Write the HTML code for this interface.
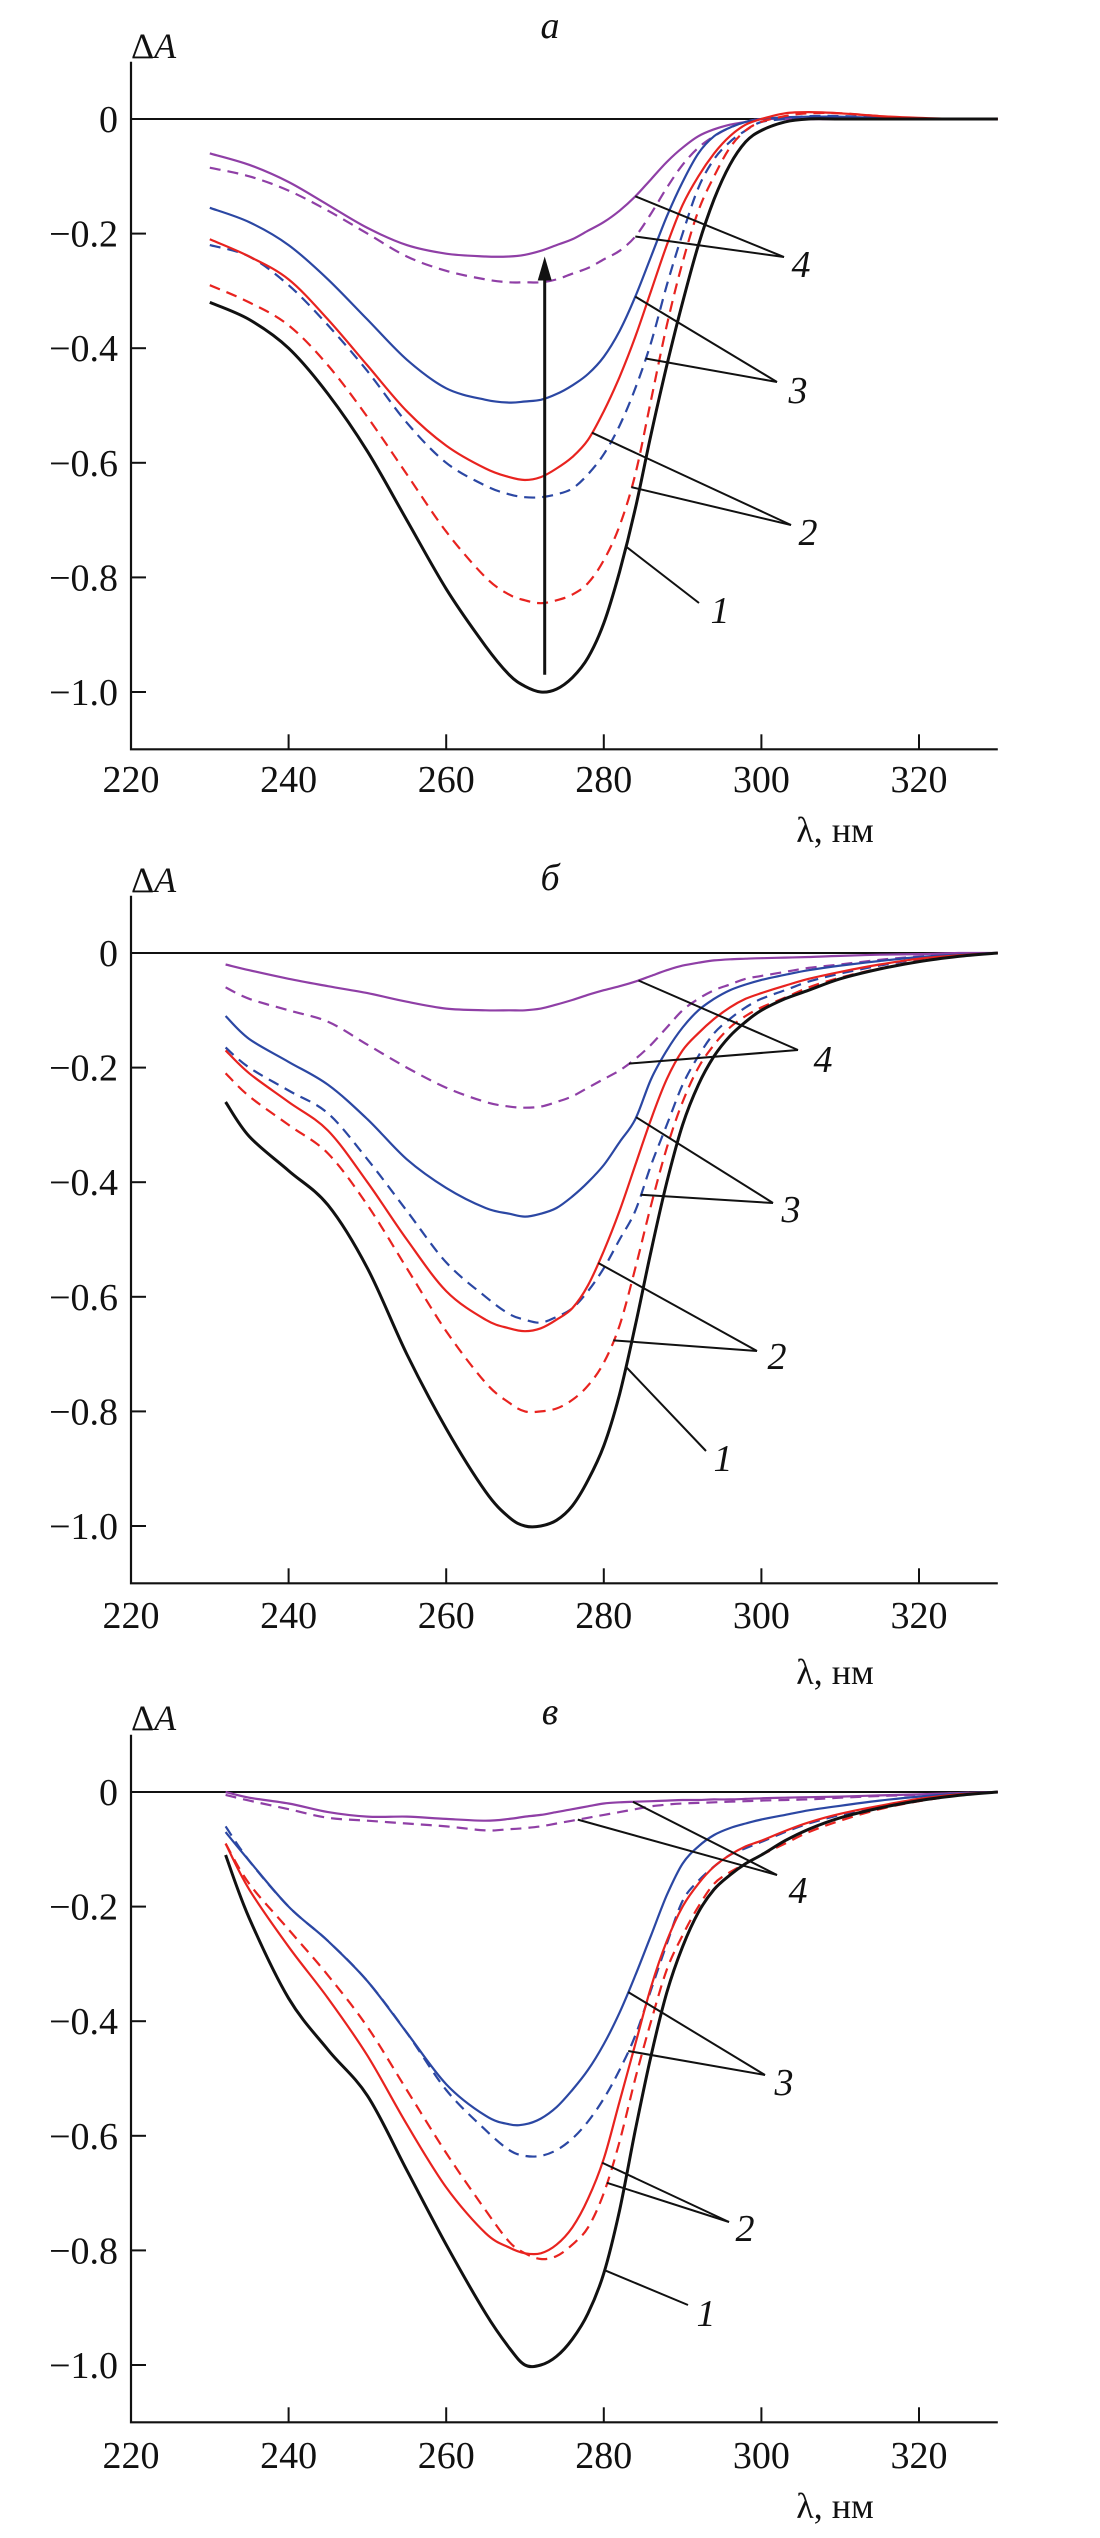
<!DOCTYPE html>
<html><head><meta charset="utf-8">
<style>
html,body{margin:0;padding:0;background:#fff;}
svg{display:block;}
text{font-family:"Liberation Serif",serif;fill:#111;}
</style></head>
<body>
<svg id="chart" width="1100" height="2538" viewBox="0 0 1100 2538" xmlns="http://www.w3.org/2000/svg"></svg>
<script>
// ---------- data ----------
const wlA = [230,235,240,245,250,255,260,265,268,270,272,274,276,278,280,282,284,286,288,290,292,294,296,298,300,303,306,310,315,320,325,330];
const wlB = [232,235,240,245,250,255,260,265,268,270,272,274,276,278,280,282,284,286,288,290,292,294,296,298,300,303,306,310,315,320,325,330];
const wlC = wlB;

const a1  = [-.32,-.35,-.40,-.48,-.58,-.70,-.82,-.92,-.97,-.99,-1.0,-.995,-.975,-.94,-.88,-.79,-.68,-.55,-.43,-.32,-.22,-.14,-.08,-.04,-.02,-.005,0,0,0,0,0,0];
const a2d = [-.29,-.32,-.36,-.43,-.52,-.62,-.72,-.80,-.83,-.84,-.845,-.84,-.83,-.81,-.77,-.71,-.62,-.49,-.36,-.25,-.16,-.10,-.05,-.02,-.005,.005,.01,.01,.005,0,0,0];
const a2s = [-.21,-.24,-.28,-.35,-.43,-.51,-.57,-.61,-.625,-.63,-.625,-.61,-.59,-.56,-.51,-.45,-.38,-.30,-.22,-.15,-.10,-.06,-.03,-.01,0,.01,.012,.01,.005,.002,0,0];
const a3d = [-.22,-.24,-.29,-.36,-.44,-.53,-.60,-.64,-.655,-.66,-.66,-.655,-.645,-.62,-.585,-.535,-.47,-.39,-.29,-.20,-.12,-.07,-.04,-.02,-.005,0,.005,.005,.003,0,0,0];
const a3s = [-.155,-.18,-.22,-.28,-.35,-.42,-.47,-.49,-.495,-.493,-.49,-.48,-.465,-.445,-.415,-.37,-.31,-.24,-.17,-.11,-.06,-.03,-.015,-.005,0,.003,.004,.004,.002,0,0,0];
const a4d = [-.085,-.10,-.125,-.16,-.20,-.24,-.265,-.28,-.285,-.285,-.285,-.28,-.27,-.26,-.245,-.23,-.205,-.165,-.12,-.08,-.05,-.03,-.015,-.005,0,0,0,0,0,0,0,0];
const a4s = [-.06,-.08,-.11,-.15,-.19,-.22,-.235,-.24,-.24,-.237,-.23,-.22,-.21,-.195,-.18,-.16,-.135,-.105,-.075,-.05,-.03,-.018,-.01,-.005,0,0,0,0,0,0,0,0];

const b1  = [-.26,-.32,-.38,-.44,-.55,-.70,-.83,-.94,-.985,-1.0,-1.0,-.99,-.965,-.92,-.86,-.77,-.65,-.52,-.40,-.30,-.23,-.18,-.145,-.12,-.10,-.08,-.065,-.045,-.028,-.015,-.006,0];
const b2d = [-.21,-.25,-.30,-.35,-.44,-.55,-.66,-.75,-.785,-.80,-.80,-.795,-.78,-.755,-.715,-.65,-.55,-.44,-.34,-.26,-.20,-.16,-.13,-.11,-.095,-.078,-.06,-.043,-.027,-.014,-.006,0];
const b2s = [-.17,-.21,-.26,-.31,-.40,-.50,-.59,-.64,-.655,-.66,-.655,-.64,-.62,-.58,-.52,-.45,-.37,-.29,-.22,-.17,-.14,-.115,-.095,-.08,-.07,-.057,-.045,-.033,-.02,-.01,-.004,0];
const b3d = [-.165,-.20,-.24,-.28,-.36,-.45,-.54,-.60,-.63,-.64,-.645,-.635,-.62,-.59,-.55,-.50,-.45,-.37,-.30,-.23,-.18,-.14,-.115,-.095,-.08,-.065,-.05,-.036,-.022,-.011,-.004,0];
const b3s = [-.11,-.15,-.19,-.23,-.29,-.36,-.41,-.445,-.455,-.46,-.455,-.445,-.425,-.40,-.37,-.33,-.29,-.22,-.17,-.13,-.10,-.08,-.065,-.055,-.047,-.038,-.03,-.022,-.014,-.007,-.003,0];
const b4d = [-.06,-.08,-.10,-.12,-.16,-.20,-.235,-.26,-.268,-.27,-.268,-.26,-.25,-.235,-.22,-.205,-.185,-.16,-.13,-.10,-.08,-.065,-.055,-.045,-.04,-.033,-.026,-.02,-.012,-.006,-.002,0];
const b4s = [-.02,-.03,-.045,-.058,-.07,-.085,-.097,-.10,-.10,-.10,-.097,-.09,-.082,-.073,-.065,-.058,-.05,-.04,-.03,-.022,-.017,-.013,-.011,-.01,-.009,-.008,-.007,-.005,-.003,-.002,0,0];

const c1  = [-.11,-.22,-.36,-.45,-.53,-.66,-.79,-.91,-.97,-1.0,-1.0,-.985,-.955,-.91,-.84,-.73,-.59,-.46,-.35,-.27,-.21,-.17,-.145,-.125,-.11,-.085,-.065,-.045,-.028,-.015,-.006,0];
const c2d = [-.09,-.16,-.24,-.32,-.41,-.52,-.63,-.73,-.785,-.805,-.815,-.81,-.79,-.76,-.70,-.61,-.50,-.40,-.31,-.25,-.20,-.16,-.14,-.125,-.11,-.09,-.07,-.05,-.03,-.016,-.006,0];
const c2s = [-.09,-.17,-.27,-.36,-.46,-.58,-.69,-.77,-.795,-.805,-.805,-.79,-.76,-.71,-.64,-.54,-.44,-.34,-.26,-.20,-.16,-.13,-.11,-.095,-.085,-.068,-.053,-.038,-.024,-.012,-.004,0];
const c3d = [-.06,-.12,-.20,-.26,-.33,-.42,-.52,-.59,-.625,-.635,-.635,-.625,-.605,-.575,-.535,-.485,-.425,-.345,-.265,-.19,-.155,-.13,-.11,-.098,-.087,-.07,-.055,-.04,-.025,-.013,-.005,0];
const c3s = [-.07,-.12,-.20,-.26,-.33,-.42,-.51,-.565,-.58,-.58,-.57,-.55,-.52,-.485,-.44,-.385,-.32,-.25,-.18,-.125,-.095,-.075,-.063,-.055,-.048,-.04,-.032,-.024,-.015,-.008,-.003,0];
const c4d = [-.005,-.015,-.03,-.045,-.05,-.055,-.06,-.067,-.065,-.063,-.06,-.055,-.05,-.045,-.04,-.035,-.03,-.025,-.022,-.02,-.019,-.018,-.017,-.016,-.015,-.014,-.013,-.01,-.007,-.005,-.002,0];
const c4s = [0,-.01,-.02,-.035,-.043,-.043,-.047,-.05,-.047,-.043,-.04,-.035,-.03,-.025,-.02,-.018,-.017,-.016,-.015,-.014,-.014,-.013,-.013,-.012,-.011,-.01,-.009,-.008,-.006,-.004,-.002,0];

const xTicks = [220,240,260,280,300,320];
const yTicks = [0,-0.2,-0.4,-0.6,-0.8,-1.0];
const yTickLabels = ["0","\u22120.2","\u22120.4","\u22120.6","\u22120.8","\u22121.0"];

const RED="#e8231f", BLUE="#2b47a3", PURPLE="#8f3fa6", BLACK="#111";

const panels = [
 {id:"a", title:"а", y0:119, wl:wlA, series:[
   {n:"curve-4-dashed",d:a4d,c:PURPLE,dash:true},{n:"curve-4-solid",d:a4s,c:PURPLE},
   {n:"curve-3-dashed",d:a3d,c:BLUE,dash:true},{n:"curve-3-solid",d:a3s,c:BLUE},
   {n:"curve-2-dashed",d:a2d,c:RED,dash:true},{n:"curve-2-solid",d:a2s,c:RED},
   {n:"curve-1",d:a1,c:BLACK,w:3}],
  labels:[
   {t:"4",lx:801,ly:263,sx:784,sy:257,targets:[[a4s,284],[a4d,284]]},
   {t:"3",lx:798,ly:389,sx:777,sy:382,targets:[[a3s,284],[a3d,285.3]]},
   {t:"2",lx:808,ly:531,sx:791,sy:525,targets:[[a2s,278.5],[a2d,283.5]]},
   {t:"1",lx:720,ly:609,sx:699,sy:603,targets:[[a1,282.8]]}],
  arrow:{x:272.5,from:-0.97,to:-0.24},
  titleY:38, daY:58, tickY:792, lamY:842},
 {id:"b", title:"б", y0:953, wl:wlB, series:[
   {n:"curve-4-dashed",d:b4d,c:PURPLE,dash:true},{n:"curve-4-solid",d:b4s,c:PURPLE},
   {n:"curve-3-dashed",d:b3d,c:BLUE,dash:true},{n:"curve-3-solid",d:b3s,c:BLUE},
   {n:"curve-2-dashed",d:b2d,c:RED,dash:true},{n:"curve-2-solid",d:b2s,c:RED},
   {n:"curve-1",d:b1,c:BLACK,w:3}],
  labels:[
   {t:"4",lx:823,ly:1058,sx:798,sy:1050,targets:[[b4s,284.4],[b4d,283.2]]},
   {t:"3",lx:791,ly:1208,sx:773,sy:1203,targets:[[b3s,284.1],[b3d,284.7]]},
   {t:"2",lx:777,ly:1355,sx:757,sy:1351,targets:[[b2s,279.3],[b2d,281.2]]},
   {t:"1",lx:723,ly:1457,sx:706,sy:1451,targets:[[b1,282.8]]}],
  titleY:890, daY:892, tickY:1628, lamY:1684},
 {id:"c", title:"в", y0:1792, wl:wlC, series:[
   {n:"curve-4-dashed",d:c4d,c:PURPLE,dash:true},{n:"curve-4-solid",d:c4s,c:PURPLE},
   {n:"curve-3-dashed",d:c3d,c:BLUE,dash:true},{n:"curve-3-solid",d:c3s,c:BLUE},
   {n:"curve-2-dashed",d:c2d,c:RED,dash:true},{n:"curve-2-solid",d:c2s,c:RED},
   {n:"curve-1",d:c1,c:BLACK,w:3}],
  labels:[
   {t:"4",lx:798,ly:1889,sx:777,sy:1875,targets:[[c4s,283.7],[c4d,276.7]]},
   {t:"3",lx:784,ly:2081,sx:765,sy:2075,targets:[[c3s,283.1],[c3d,283.1]]},
   {t:"2",lx:745,ly:2227,sx:729,sy:2222,targets:[[c2s,279.8],[c2d,280.4]]},
   {t:"1",lx:706,ly:2312,sx:688,sy:2305,targets:[[c1,280.1]]}],
  titleY:1724, daY:1730, tickY:2468, lamY:2518}
];

// ---------- drawing ----------
const NS="http://www.w3.org/2000/svg";
const svg=document.getElementById("chart");
function el(tag,attrs,parent){const e=document.createElementNS(NS,tag);for(const k in attrs)e.setAttribute(k,attrs[k]);(parent||svg).appendChild(e);return e;}
const X0=131, XPER=(919-131)/100, UNIT=573;
function xs(nm){return X0+(nm-220)*XPER;}
function interp(wl,d,nm){for(let i=0;i<wl.length-1;i++){if(nm>=wl[i]&&nm<=wl[i+1]){const t=(nm-wl[i])/(wl[i+1]-wl[i]);return d[i]+t*(d[i+1]-d[i]);}}return d[d.length-1];}
function smoothPath(pts){let s="M"+pts[0][0].toFixed(1)+","+pts[0][1].toFixed(1);
 for(let i=0;i<pts.length-1;i++){const p0=pts[Math.max(0,i-1)],p1=pts[i],p2=pts[i+1],p3=pts[Math.min(pts.length-1,i+2)];
  const c1x=p1[0]+(p2[0]-p0[0])/6,c1y=p1[1]+(p2[1]-p0[1])/6,c2x=p2[0]-(p3[0]-p1[0])/6,c2y=p2[1]-(p3[1]-p1[1])/6;
  s+=" C"+c1x.toFixed(1)+","+c1y.toFixed(1)+" "+c2x.toFixed(1)+","+c2y.toFixed(1)+" "+p2[0].toFixed(1)+","+p2[1].toFixed(1);}
 return s;}

panels.forEach(p=>{
 const ys=v=>p.y0-v*UNIT;
 const g=el("g",{});
 
 
 const t=el("text",{x:550,y:p.titleY,"font-size":38,"font-style":"italic","text-anchor":"middle"},g);
 t.textContent=p.title;
 
 
 const da=el("text",{x:131,y:p.daY,"font-size":36},g);
 da.innerHTML='Δ<tspan font-style="italic">A</tspan>';
 
 
 const bottom=ys(-1.1), top=ys(0.1);
 const ax=el("path",{d:`M${X0},${top} L${X0},${bottom} L${xs(330)},${bottom}`,stroke:"#111","stroke-width":2.2,fill:"none"},g);
 
 
 const zl=el("line",{x1:X0,x2:xs(330),y1:ys(0),y2:ys(0),stroke:"#111","stroke-width":2},g);
 
 
 xTicks.forEach(v=>{
  const tk=el("line",{x1:xs(v),x2:xs(v),y1:bottom,y2:bottom-15,stroke:"#111","stroke-width":2},g);
  
  
  const tl=el("text",{x:xs(v),y:p.tickY,"font-size":38,"text-anchor":"middle"},g);
  tl.textContent=String(v);
  
  
 });
 yTicks.forEach((v,i)=>{
  const tk=el("line",{x1:X0,x2:X0+15,y1:ys(v),y2:ys(v),stroke:"#111","stroke-width":2},g);
  
  
  const tl=el("text",{x:118,y:ys(v)+13,"font-size":38,"text-anchor":"end"},g);
  tl.textContent=yTickLabels[i];
  
  
 });
 const lam=el("text",{x:835,y:p.lamY,"font-size":36,"text-anchor":"middle"},g);
 lam.textContent="λ, нм";
 
 
 p.series.forEach(s=>{
  const pts=p.wl.map((w,i)=>[xs(w),ys(s.d[i])]);
  const attrs={d:smoothPath(pts),stroke:s.c,"stroke-width":s.w||2.2,fill:"none","stroke-linejoin":"round"};
  if(s.dash)attrs["stroke-dasharray"]="11 7";
  const path=el("path",attrs,g);
  
  
 });
 p.labels.forEach(L=>{
  L.targets.forEach(tg=>{
   const ln=el("line",{x1:L.sx,y1:L.sy,x2:xs(tg[1]),y2:ys(interp(p.wl,tg[0],tg[1])),stroke:"#111","stroke-width":2},g);
   
   
  });
  const lt=el("text",{x:L.lx,y:L.ly+14,"font-size":38,"font-style":"italic","text-anchor":"middle"},g);
  lt.textContent=L.t;
  
  
 });
 if(p.arrow){
  const ax2=xs(p.arrow.x);
  const ar=el("line",{x1:ax2,x2:ax2,y1:ys(p.arrow.from),y2:ys(p.arrow.to)+22,stroke:"#111","stroke-width":3},g);
  
  
  const ah=el("path",{d:`M${ax2-7},${ys(p.arrow.to)+24} L${ax2},${ys(p.arrow.to)} L${ax2+7},${ys(p.arrow.to)+24} Z`,fill:"#111"},g);
  
  
 }
});
</script>
</body></html>
